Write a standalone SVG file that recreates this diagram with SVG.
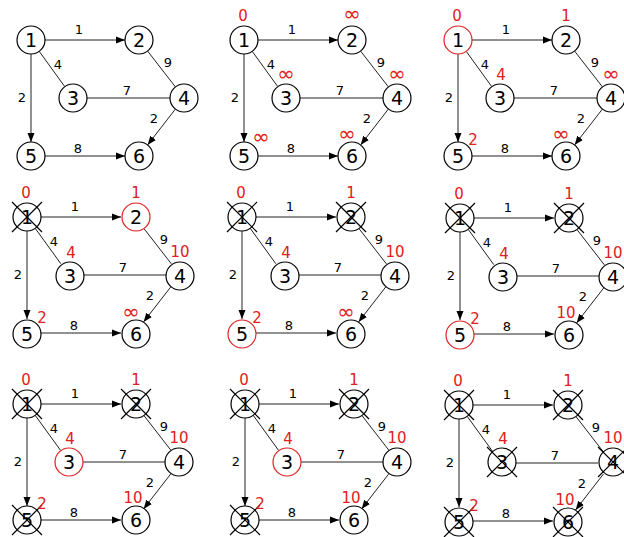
<svg xmlns="http://www.w3.org/2000/svg" xmlns:xlink="http://www.w3.org/1999/xlink" width="624" height="537" viewBox="0 0 624 537">
<style>
.bg{fill:#fff}
.node circle{fill:#fff;stroke:#000;stroke-width:1.2}
.node circle.cur{stroke:#e02020}
.nt{font-family:"DejaVu Sans",Verdana,sans-serif;font-size:19px;text-anchor:middle;fill:#000}
.el{font-family:"DejaVu Sans",Verdana,sans-serif;font-size:13px;text-anchor:middle;fill:#000}
.dl{font-family:"DejaVu Sans",Verdana,sans-serif;font-size:15px;text-anchor:middle;fill:#e02020}
.inf{font-size:21px}
.edge{stroke:#222;stroke-width:1;fill:none}
.arr{marker-end:url(#ah)}
.cross{stroke:#000;stroke-width:1.2;fill:none}
</style>
<defs>
<marker id="ah" markerWidth="9" markerHeight="8" refX="9" refY="4" orient="auto" markerUnits="userSpaceOnUse">
<path d="M0,0.5 L9,4 L0,7.5 z" fill="#000"/>
</marker>
<path id="x" class="cross" d="M-15,-15 L15,15 M15,-15 L-15,15"/>
<g id="edgeset">
<line class="edge arr" x1="14" y1="0" x2="94" y2="0"/>
<line class="edge" x1="8.2" y1="11.3" x2="33.8" y2="46.7"/>
<line class="edge arr" x1="0" y1="14" x2="0" y2="102"/>
<line class="edge" x1="116.6" y1="11.1" x2="144.4" y2="46.9"/>
<line class="edge" x1="56" y1="58" x2="139" y2="58"/>
<line class="edge arr" x1="144.4" y1="69.1" x2="116.6" y2="104.9"/>
<line class="edge arr" x1="14" y1="116" x2="94" y2="116"/>
<text class="el" x="48" y="-6">1</text>
<text class="el" x="27" y="29">4</text>
<text class="el" x="-9" y="62">2</text>
<text class="el" x="137" y="27">9</text>
<text class="el" x="96" y="55">7</text>
<text class="el" x="123" y="83">2</text>
<text class="el" x="47" y="113">8</text>
</g>
</defs>
<rect class="bg" width="624" height="537"/>

<!-- Panel 1 -->
<g id="panel1" transform="translate(31,40)">
<g id="p1-connectors"><use xlink:href="#edgeset" href="#edgeset"/></g>
<g id="p1-n1" class="node"><circle r="14"/><text class="nt" y="7">1</text></g>
<g id="p1-n2" class="node" transform="translate(108,0)"><circle r="14"/><text class="nt" y="7">2</text></g>
<g id="p1-n3" class="node" transform="translate(42,58)"><circle r="14"/><text class="nt" y="7">3</text></g>
<g id="p1-n4" class="node" transform="translate(153,58)"><circle r="14"/><text class="nt" y="7">4</text></g>
<g id="p1-n5" class="node" transform="translate(0,116)"><circle r="14"/><text class="nt" y="7">5</text></g>
<g id="p1-n6" class="node" transform="translate(108,116)"><circle r="14"/><text class="nt" y="7">6</text></g>
</g>

<!-- Panel 2 -->
<g id="panel2" transform="translate(244,40)">
<g id="p2-connectors"><use xlink:href="#edgeset" href="#edgeset"/></g>
<g id="p2-n1" class="node"><circle r="14"/><text class="nt" y="7">1</text><text class="dl" x="-1" y="-19">0</text></g>
<g id="p2-n2" class="node" transform="translate(108,0)"><circle r="14"/><text class="nt" y="7">2</text><text class="dl inf" y="-19">∞</text></g>
<g id="p2-n3" class="node" transform="translate(42,58)"><circle r="14"/><text class="nt" y="7">3</text><text class="dl inf" y="-17">∞</text></g>
<g id="p2-n4" class="node" transform="translate(153,58)"><circle r="14"/><text class="nt" y="7">4</text><text class="dl inf" y="-17">∞</text></g>
<g id="p2-n5" class="node" transform="translate(0,116)"><circle r="14"/><text class="nt" y="7">5</text><text class="dl inf" x="17" y="-12">∞</text></g>
<g id="p2-n6" class="node" transform="translate(108,116)"><circle r="14"/><text class="nt" y="7">6</text><text class="dl inf" x="-5" y="-15">∞</text></g>
</g>

<!-- Panel 3 -->
<g id="panel3" transform="translate(458,40)">
<g id="p3-connectors"><use xlink:href="#edgeset" href="#edgeset"/></g>
<g id="p3-n1" class="node"><circle class="cur" r="14"/><text class="nt" y="7">1</text><text class="dl" x="-1" y="-19">0</text></g>
<g id="p3-n2" class="node" transform="translate(108,0)"><circle r="14"/><text class="nt" y="7">2</text><text class="dl" y="-19">1</text></g>
<g id="p3-n3" class="node" transform="translate(42,58)"><circle r="14"/><text class="nt" y="7">3</text><text class="dl" x="1" y="-18">4</text></g>
<g id="p3-n4" class="node" transform="translate(153,58)"><circle r="14"/><text class="nt" y="7">4</text><text class="dl inf" y="-17">∞</text></g>
<g id="p3-n5" class="node" transform="translate(0,116)"><circle r="14"/><text class="nt" y="7">5</text><text class="dl" x="15" y="-11">2</text></g>
<g id="p3-n6" class="node" transform="translate(108,116)"><circle r="14"/><text class="nt" y="7">6</text><text class="dl inf" x="-5" y="-15">∞</text></g>
</g>

<!-- Panel 4 -->
<g id="panel4" transform="translate(27,217)">
<g id="p4-connectors"><use xlink:href="#edgeset" href="#edgeset"/></g>
<g id="p4-n1" class="node"><circle r="14"/><text class="nt" y="7">1</text><use xlink:href="#x" href="#x"/><text class="dl" x="-1" y="-19">0</text></g>
<g id="p4-n2" class="node" transform="translate(109,0)"><circle class="cur" r="14"/><text class="nt" y="7">2</text><text class="dl" y="-19">1</text></g>
<g id="p4-n3" class="node" transform="translate(43,59)"><circle r="14"/><text class="nt" y="7">3</text><text class="dl" x="1" y="-18">4</text></g>
<g id="p4-n4" class="node" transform="translate(153,59)"><circle r="14"/><text class="nt" y="7">4</text><text class="dl" y="-19">10</text></g>
<g id="p4-n5" class="node" transform="translate(0,117)"><circle r="14"/><text class="nt" y="7">5</text><text class="dl" x="15" y="-11">2</text></g>
<g id="p4-n6" class="node" transform="translate(109,117)"><circle r="14"/><text class="nt" y="7">6</text><text class="dl inf" x="-5" y="-15">∞</text></g>
</g>

<!-- Panel 5 -->
<g id="panel5" transform="translate(242,217)">
<g id="p5-connectors"><use xlink:href="#edgeset" href="#edgeset"/></g>
<g id="p5-n1" class="node"><circle r="14"/><text class="nt" y="7">1</text><use xlink:href="#x" href="#x"/><text class="dl" x="-1" y="-19">0</text></g>
<g id="p5-n2" class="node" transform="translate(109,0)"><circle r="14"/><text class="nt" y="7">2</text><use xlink:href="#x" href="#x"/><text class="dl" y="-19">1</text></g>
<g id="p5-n3" class="node" transform="translate(43,59)"><circle r="14"/><text class="nt" y="7">3</text><text class="dl" x="1" y="-18">4</text></g>
<g id="p5-n4" class="node" transform="translate(153,59)"><circle r="14"/><text class="nt" y="7">4</text><text class="dl" y="-19">10</text></g>
<g id="p5-n5" class="node" transform="translate(0,117)"><circle class="cur" r="14"/><text class="nt" y="7">5</text><text class="dl" x="15" y="-11">2</text></g>
<g id="p5-n6" class="node" transform="translate(109,117)"><circle r="14"/><text class="nt" y="7">6</text><text class="dl inf" x="-5" y="-15">∞</text></g>
</g>

<!-- Panel 6 -->
<g id="panel6" transform="translate(460,218)">
<g id="p6-connectors"><use xlink:href="#edgeset" href="#edgeset"/></g>
<g id="p6-n1" class="node"><circle r="14"/><text class="nt" y="7">1</text><use xlink:href="#x" href="#x"/><text class="dl" x="-1" y="-19">0</text></g>
<g id="p6-n2" class="node" transform="translate(109,0)"><circle r="14"/><text class="nt" y="7">2</text><use xlink:href="#x" href="#x"/><text class="dl" y="-19">1</text></g>
<g id="p6-n3" class="node" transform="translate(43,59)"><circle r="14"/><text class="nt" y="7">3</text><text class="dl" x="1" y="-18">4</text></g>
<g id="p6-n4" class="node" transform="translate(153,59)"><circle r="14"/><text class="nt" y="7">4</text><text class="dl" y="-19">10</text></g>
<g id="p6-n5" class="node" transform="translate(0,117)"><circle class="cur" r="14"/><text class="nt" y="7">5</text><text class="dl" x="15" y="-11">2</text></g>
<g id="p6-n6" class="node" transform="translate(109,117)"><circle r="14"/><text class="nt" y="7">6</text><text class="dl" x="-3" y="-17">10</text></g>
</g>

<!-- Panel 7 -->
<g id="panel7" transform="translate(27,404)">
<g id="p7-connectors"><use xlink:href="#edgeset" href="#edgeset"/></g>
<g id="p7-n1" class="node"><circle r="14"/><text class="nt" y="7">1</text><use xlink:href="#x" href="#x"/><text class="dl" x="-1" y="-19">0</text></g>
<g id="p7-n2" class="node" transform="translate(109,0)"><circle r="14"/><text class="nt" y="7">2</text><use xlink:href="#x" href="#x"/><text class="dl" y="-19">1</text></g>
<g id="p7-n3" class="node" transform="translate(42,58)"><circle class="cur" r="14"/><text class="nt" y="7">3</text><text class="dl" x="1" y="-18">4</text></g>
<g id="p7-n4" class="node" transform="translate(152,58)"><circle r="14"/><text class="nt" y="7">4</text><text class="dl" y="-19">10</text></g>
<g id="p7-n5" class="node" transform="translate(0,116)"><circle r="14"/><text class="nt" y="7">5</text><use xlink:href="#x" href="#x"/><text class="dl" x="15" y="-11">2</text></g>
<g id="p7-n6" class="node" transform="translate(109,116)"><circle r="14"/><text class="nt" y="7">6</text><text class="dl" x="-3" y="-17">10</text></g>
</g>

<!-- Panel 8 -->
<g id="panel8" transform="translate(245,404)">
<g id="p8-connectors"><use xlink:href="#edgeset" href="#edgeset"/></g>
<g id="p8-n1" class="node"><circle r="14"/><text class="nt" y="7">1</text><use xlink:href="#x" href="#x"/><text class="dl" x="-1" y="-19">0</text></g>
<g id="p8-n2" class="node" transform="translate(109,0)"><circle r="14"/><text class="nt" y="7">2</text><use xlink:href="#x" href="#x"/><text class="dl" y="-19">1</text></g>
<g id="p8-n3" class="node" transform="translate(42,58)"><circle class="cur" r="14"/><text class="nt" y="7">3</text><text class="dl" x="1" y="-18">4</text></g>
<g id="p8-n4" class="node" transform="translate(152,58)"><circle r="14"/><text class="nt" y="7">4</text><text class="dl" y="-19">10</text></g>
<g id="p8-n5" class="node" transform="translate(0,116)"><circle r="14"/><text class="nt" y="7">5</text><use xlink:href="#x" href="#x"/><text class="dl" x="15" y="-11">2</text></g>
<g id="p8-n6" class="node" transform="translate(109,116)"><circle r="14"/><text class="nt" y="7">6</text><text class="dl" x="-3" y="-17">10</text></g>
</g>

<!-- Panel 9 -->
<g id="panel9" transform="translate(459,405)">
<g id="p9-connectors"><use xlink:href="#edgeset" href="#edgeset"/></g>
<g id="p9-n1" class="node"><circle r="14"/><text class="nt" y="7">1</text><use xlink:href="#x" href="#x"/><text class="dl" x="-1" y="-19">0</text></g>
<g id="p9-n2" class="node" transform="translate(109,0)"><circle r="14"/><text class="nt" y="7">2</text><use xlink:href="#x" href="#x"/><text class="dl" y="-19">1</text></g>
<g id="p9-n3" class="node" transform="translate(43,57)"><circle r="14"/><text class="nt" y="7">3</text><use xlink:href="#x" href="#x"/><text class="dl" x="1" y="-18">4</text></g>
<g id="p9-n4" class="node" transform="translate(154,57)"><circle r="14"/><text class="nt" y="7">4</text><use xlink:href="#x" href="#x"/><text class="dl" y="-19">10</text></g>
<g id="p9-n5" class="node" transform="translate(0,117)"><circle r="14"/><text class="nt" y="7">5</text><use xlink:href="#x" href="#x"/><text class="dl" x="15" y="-11">2</text></g>
<g id="p9-n6" class="node" transform="translate(109,117)"><circle r="14"/><text class="nt" y="7">6</text><use xlink:href="#x" href="#x"/><text class="dl" x="-3" y="-17">10</text></g>
</g>
</svg>
